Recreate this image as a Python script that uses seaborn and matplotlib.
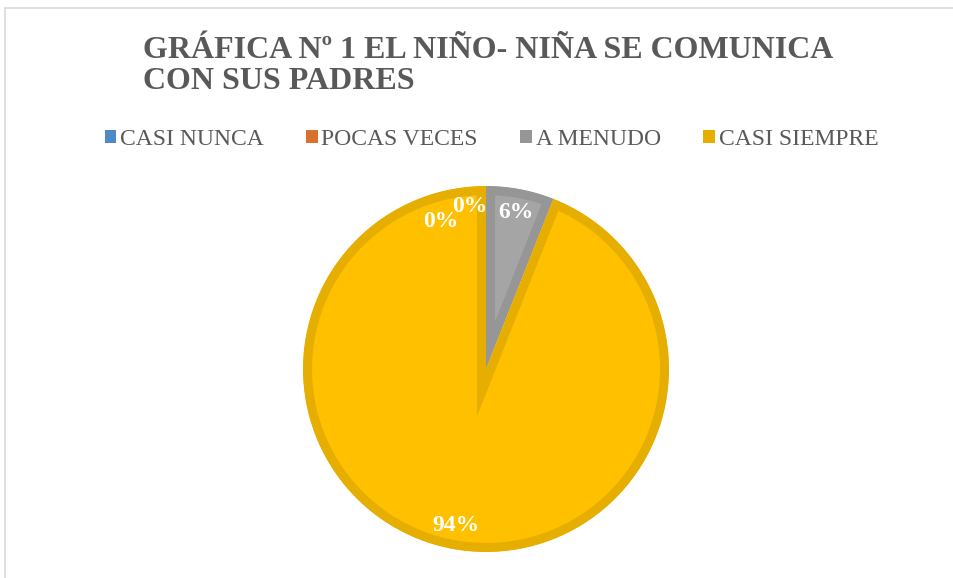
import numpy as np
import matplotlib
matplotlib.use("Agg")
import matplotlib.pyplot as plt
import seaborn as sns
from matplotlib.patches import Patch, Rectangle

sns.set_theme(style="white")
plt.rcParams['font.family'] = ['Liberation Serif', 'DejaVu Serif']

categories = ["CASI NUNCA", "POCAS VECES", "A MENUDO", "CASI SIEMPRE"]
values = [0, 0, 6, 94]
pct_labels = ["0%", "0%", "6%", "94%"]
title = "GRÁFICA Nº 1 EL NIÑO- NIÑA SE COMUNICA\nCON SUS PADRES"

fill_colors = ["#5B9BD5", "#ED7D31", "#A5A5A5", "#FFC000"]
band_colors = ["#4E8AC6", "#D8702E", "#969696", "#E6AE00"]

W, H = 954, 578
fig = plt.figure(figsize=(W / 100, H / 100), dpi=100)
fig.patch.set_facecolor("white")

# chart border
fig.patches.append(Rectangle((5.5 / W, -0.1), 1.2, 1 - 8.5 / H + 0.1,
                             transform=fig.transFigure, fill=False,
                             edgecolor="#D9D9D9", linewidth=1.2))

cx, cy, r = 486, 369, 183
ax = fig.add_axes([(cx - r) / W, (H - cy - r) / H, 2 * r / W, 2 * r / H])
wedges, _ = ax.pie(values, colors=fill_colors, startangle=90, counterclock=False,
                   radius=1.0, wedgeprops=dict(linewidth=0))
ax.set_xlim(-1, 1)
ax.set_ylim(-1, 1)
ax.set_aspect("equal")
ax.axis("off")
for w, bc in zip(wedges, band_colors):
    w.set_edgecolor(bc)
    w.set_linewidth(13.0)
    w.set_clip_on(True)
    w.set_clip_path(w.get_path(), w.get_transform())

# data labels (inside end; zero-value labels nudged apart like best fit)
zero_shift = [(17.0, 0.84), (5.6, 0.89)]
zi = 0
for w, lab, v in zip(wedges, pct_labels, values):
    mid = (w.theta1 + w.theta2) / 2
    rr = 0.87
    if v == 0:
        d, rr = zero_shift[zi]
        mid = mid + d
        zi += 1
    x, y = rr * np.cos(np.radians(mid)), rr * np.sin(np.radians(mid))
    ax.text(x, y, lab, ha="center", va="center", color="white",
            fontsize=17, fontweight="bold")

fig.text(143 / W, 1 - 36 / H, title, ha="left", va="top", fontsize=23,
         fontweight="bold", color="#595959", linespacing=1.08)

handles = [Patch(facecolor=c, edgecolor="none", label=l)
           for c, l in zip(band_colors, categories)]
fig.legend(handles=handles, loc="center", bbox_to_anchor=(491.5 / W, 1 - 139.5 / H),
           ncol=4, frameon=False, fontsize=17, handlelength=0.5, handleheight=0.5,
           handletextpad=0.15, columnspacing=1.8, labelcolor="#595959")

fig.savefig("out.png", dpi=100)
